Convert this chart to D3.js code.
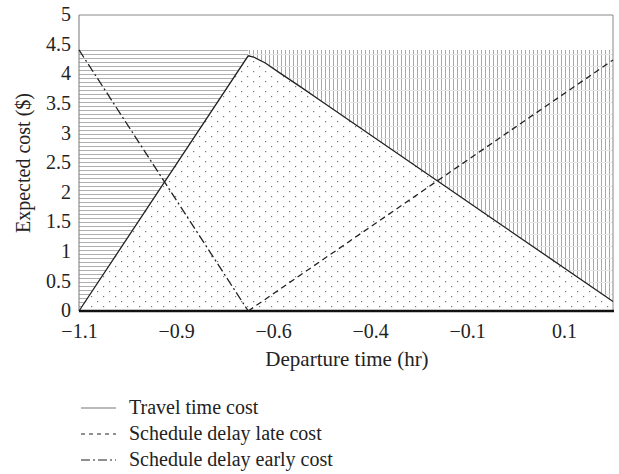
<!DOCTYPE html>
<html><head><meta charset="utf-8">
<script src="https://cdn.jsdelivr.net/npm/d3@7"></script>
<style>body{margin:0;background:#fff}svg{display:block}</style>
</head><body>
<script>
// ---- data ----
const travelX = [-1.1, -0.664, -0.65, -0.62, -0.58, -0.53, -0.479, -0.177, -0.015, 0.276];
const travelY = [0, 4.31, 4.29, 4.19, 4.01, 3.79, 3.56, 2.20, 1.47, 0.16];
const lateX = [-0.664, 0.276];
const lateY = [0, 4.24];
const earlyX = [-1.1, -0.664];
const earlyY = [4.41, 0];
const capValue = 4.41;
const xTickValues = [-1.1, -0.85, -0.6, -0.35, -0.1, 0.15];
const xTickLabels = ["\u22121.1", "\u22120.9", "\u22120.6", "\u22120.4", "\u22120.1", "0.1"];
const yTickValues = [0, 0.5, 1, 1.5, 2, 2.5, 3, 3.5, 4, 4.5, 5];
const yTickLabels = ["0", "0.5", "1", "1.5", "2", "2.5", "3", "3.5", "4", "4.5", "5"];
const legendLabels = ["Travel time cost", "Schedule delay late cost", "Schedule delay early cost"];
const xTitle = "Departure time (hr)";
const yTitle = "Expected cost ($)";

const W = 619, H = 474;
const FONT = "'Liberation Serif', serif";
const svg = d3.select("body").append("svg").attr("width", W).attr("height", H);
const x = d3.scaleLinear().domain([-1.1, 0.276]).range([79, 613]);
const y = d3.scaleLinear().domain([0, 5]).range([311, 15]);

const defs = svg.append("defs");
const ph = defs.append("pattern").attr("id", "hh").attr("patternUnits", "userSpaceOnUse")
  .attr("width", 8).attr("height", 4).attr("y", 50);
ph.append("line").attr("x1", 0).attr("x2", 8).attr("y1", 0.5).attr("y2", 0.5)
  .attr("stroke", "#b0b0b0").attr("stroke-width", 1);
const pv = defs.append("pattern").attr("id", "vv").attr("patternUnits", "userSpaceOnUse")
  .attr("width", 4).attr("height", 12).attr("x", 1);
pv.append("line").attr("x1", 0.5).attr("x2", 0.5).attr("y1", 0).attr("y2", 12)
  .attr("stroke", "#a8a8a8").attr("stroke-width", 1);
pv.append("line").attr("x1", 0).attr("x2", 4).attr("y1", 6.5).attr("y2", 6.5)
  .attr("stroke", "#e4e4e4").attr("stroke-width", 1);
const pd = defs.append("pattern").attr("id", "dd").attr("patternUnits", "userSpaceOnUse")
  .attr("width", 12).attr("height", 10);
[[1, 1], [7, 6]].forEach(([a, b]) => pd.append("rect").attr("x", a).attr("y", b)
  .attr("width", 1.2).attr("height", 1.2).attr("fill", "#777"));

const travel = travelX.map((v, i) => [v, travelY[i]]);
const peakIdx = d3.maxIndex(travelY);
const left = travel.slice(0, peakIdx + 1);
const right = travel.slice(peakIdx);

const area = d3.area().x(d => x(d[0])).y0(y(capValue)).y1(d => y(d[1]));
svg.append("path").datum(left).attr("d", area).attr("fill", "url(#hh)");
svg.append("path").datum(right).attr("d", area).attr("fill", "url(#vv)");
const under = d3.area().x(d => x(d[0])).y0(y(0)).y1(d => y(d[1]));
svg.append("path").datum(travel).attr("d", under).attr("fill", "url(#dd)");

// frame
svg.append("line").attr("x1", x.range()[0]).attr("x2", x.range()[1]).attr("y1", y(5)).attr("y2", y(5)).attr("stroke", "#888");
svg.append("line").attr("x1", x.range()[1]).attr("x2", x.range()[1]).attr("y1", y(5)).attr("y2", y(0)).attr("stroke", "#888");
svg.append("line").attr("x1", x.range()[0]).attr("x2", x.range()[0]).attr("y1", y(5)).attr("y2", y(0)).attr("stroke", "#777");

const line = d3.line().x(d => x(d[0])).y(d => y(d[1]));
svg.append("path").datum(travel).attr("d", line).attr("fill", "none").attr("stroke", "#222").attr("stroke-width", 1.3);
svg.append("path").datum(lateX.map((v, i) => [v, lateY[i]])).attr("d", line).attr("fill", "none")
  .attr("stroke", "#222").attr("stroke-width", 1.3).attr("stroke-dasharray", "6,4");
svg.append("path").datum(earlyX.map((v, i) => [v, earlyY[i]])).attr("d", line).attr("fill", "none")
  .attr("stroke", "#222").attr("stroke-width", 1.3).attr("stroke-dasharray", "9,3,2,3");

// bottom axis
svg.append("line").attr("x1", x.range()[0]).attr("x2", x.range()[1] + 1).attr("y1", y(0)).attr("y2", y(0))
  .attr("stroke", "#111").attr("stroke-width", 2.5);

const xa = svg.append("g").attr("transform", `translate(0,${y(0)})`)
  .call(d3.axisBottom(x).tickValues(xTickValues).tickFormat((d, i) => xTickLabels[i]).tickSize(0).tickPadding(13));
xa.select(".domain").remove();
xa.selectAll("text").attr("font-family", FONT).attr("font-size", 20).attr("fill", "#222");

const ya = svg.append("g").attr("transform", `translate(${x.range()[0]},0)`)
  .call(d3.axisLeft(y).tickValues(yTickValues).tickFormat((d, i) => yTickLabels[i]).tickSize(0).tickPadding(8));
ya.select(".domain").remove();
ya.selectAll("text").attr("font-family", FONT).attr("font-size", 20).attr("fill", "#222").attr("dy", "0.28em");

svg.append("text").attr("x", 347).attr("y", 366).attr("text-anchor", "middle")
  .attr("font-family", FONT).attr("font-size", 21).attr("fill", "#222").text(xTitle);
svg.append("text").attr("transform", "translate(30,163) rotate(-90)").attr("text-anchor", "middle")
  .attr("font-family", FONT).attr("font-size", 20).attr("fill", "#222").text(yTitle);

const dashes = [null, "4,4", "9,3,2,3"];
const lg = svg.append("g");
legendLabels.forEach((t, i) => {
  const cy = 408 + i * 26;
  lg.append("line").attr("x1", 81).attr("x2", 116).attr("y1", cy).attr("y2", cy)
    .attr("stroke", i === 0 ? "#777" : "#222").attr("stroke-width", 1.2).attr("stroke-dasharray", dashes[i]);
  lg.append("text").attr("x", 129).attr("y", cy + 6).attr("font-family", FONT).attr("font-size", 20)
    .attr("fill", "#222").text(t);
});
</script>
</body></html>
